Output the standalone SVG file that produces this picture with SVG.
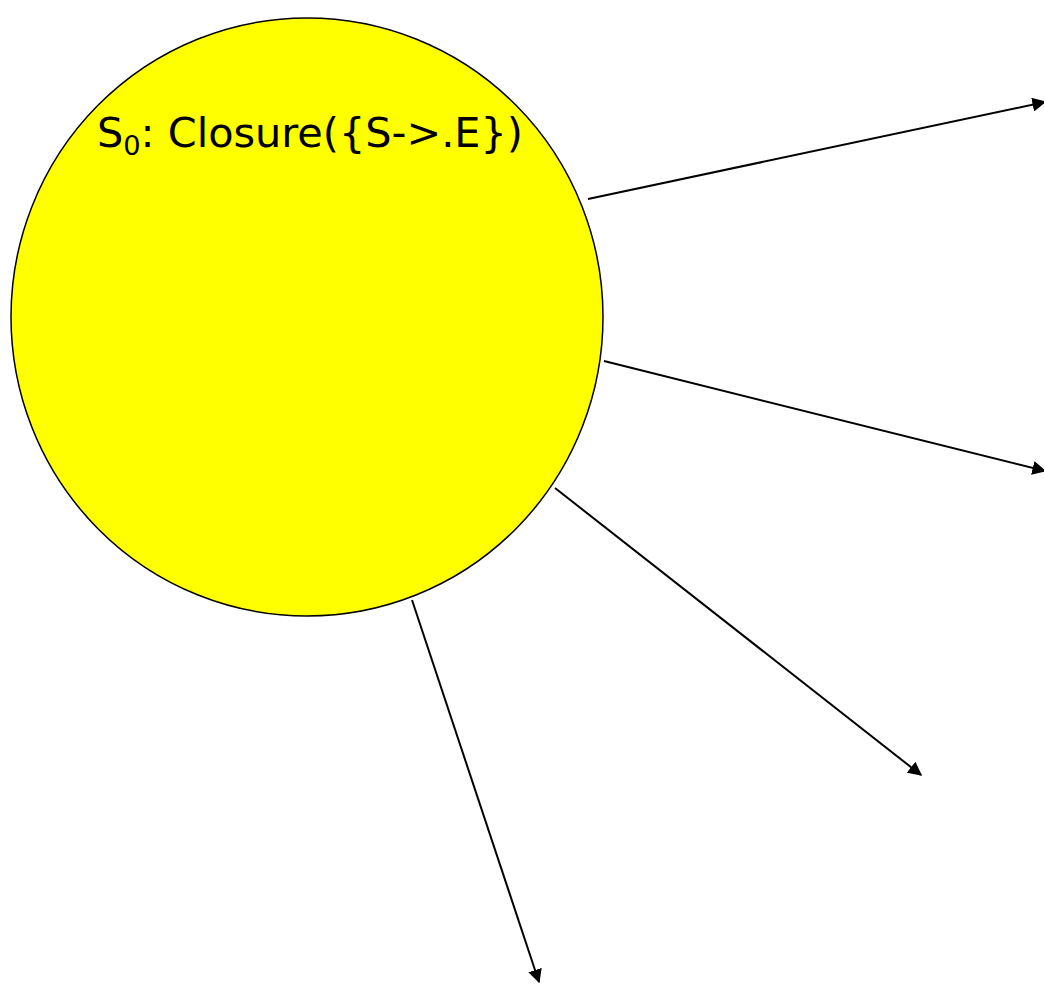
<svg xmlns="http://www.w3.org/2000/svg" width="1044" height="984" viewBox="0 0 1044 984">
<style>
.edge{stroke:#000;stroke-width:2;fill:none;marker-end:url(#ah)}
.lbl{font-family:"Comic Sans MS","DejaVu Sans",sans-serif;font-size:41px;fill:#000}
</style>
<defs>
<marker id="ah" viewBox="0 0 10 10" refX="9" refY="5" markerWidth="7" markerHeight="7" orient="auto" markerUnits="strokeWidth">
<path d="M0,0 L10,5 L0,10 z" fill="#000"/>
</marker>
</defs>
<rect width="1044" height="984" fill="#fff"/>
<g id="s0">
<ellipse cx="307" cy="317" rx="296" ry="299" fill="#ffff00" stroke="#000" stroke-width="1.5"/>
<text class="lbl" x="97" y="147" textLength="426" lengthAdjust="spacingAndGlyphs">S<tspan font-size="27" dy="8">0</tspan><tspan dy="-8">: Closure({S-&gt;.E})</tspan></text>
</g>
<g id="connectors">
<line class="edge" x1="588" y1="199" x2="1045" y2="102"/>
<line class="edge" x1="604" y1="361" x2="1045" y2="471"/>
<line class="edge" x1="555" y1="488" x2="921" y2="775"/>
<line class="edge" x1="412" y1="600" x2="539" y2="982"/>
</g>
</svg>
